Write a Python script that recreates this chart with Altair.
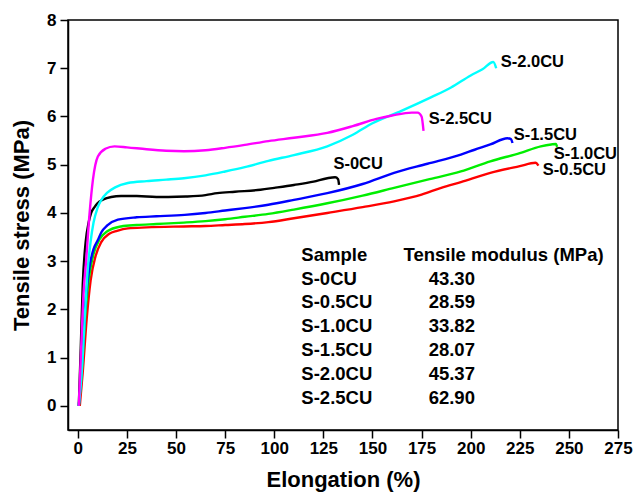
import altair as alt
import pandas as pd

# ---- data ----
names = ["S-0CU", "S-0.5CU", "S-1.0CU", "S-1.5CU", "S-2.0CU", "S-2.5CU"]
colors = ["#000000", "#FF0000", "#00EE00", "#0000FF", "#00FFFF", "#FF00FF"]

s0_x = [0.5, 1.5, 2.5, 4, 5.5, 6.8, 8.5, 10, 13, 17, 22, 30, 40, 46, 55, 65, 71, 80, 93, 100, 110, 120, 127, 131, 132.5, 133]
s0_y = [0, 1.2, 2.5, 3.4, 3.8, 4.0, 4.12, 4.2, 4.28, 4.33, 4.35, 4.35, 4.33, 4.33, 4.34, 4.37, 4.41, 4.44, 4.48, 4.52, 4.58, 4.65, 4.72, 4.74, 4.70, 4.58]

s05_x = [1, 2.5, 4.5, 6.5, 9, 12, 16, 20, 25.5, 35, 54, 65, 75, 85, 97, 110, 127, 145, 161, 175, 185, 195, 210, 225, 233, 234.5]
s05_y = [0, 0.7, 1.8, 2.6, 3.1, 3.4, 3.57, 3.63, 3.68, 3.70, 3.72, 3.73, 3.75, 3.77, 3.81, 3.89, 4.0, 4.12, 4.24, 4.38, 4.52, 4.64, 4.83, 4.97, 5.04, 4.98]

s10_x = [0.5, 2, 4, 6, 8, 11, 15, 22, 30, 40, 54, 65, 75, 85, 97, 110, 127, 145, 161, 178, 195, 210, 225, 235.7, 241, 243.4, 244]
s10_y = [0, 0.7, 2.0, 2.75, 3.15, 3.45, 3.62, 3.72, 3.75, 3.77, 3.8, 3.83, 3.87, 3.92, 3.98, 4.07, 4.2, 4.36, 4.52, 4.69, 4.86, 5.07, 5.24, 5.38, 5.42, 5.43, 5.37]

s15_x = [0.5, 2, 4, 6, 8, 10.2, 12, 15, 20.4, 30, 40, 54.4, 65, 75, 85, 97, 110, 127, 145, 161, 178, 195, 202, 210, 218.7, 220.5, 221.3]
s15_y = [0, 0.8, 2.2, 2.9, 3.25, 3.44, 3.6, 3.74, 3.86, 3.91, 3.93, 3.96, 4.0, 4.05, 4.1, 4.17, 4.27, 4.41, 4.6, 4.83, 5.02, 5.21, 5.31, 5.42, 5.55, 5.53, 5.45]

s20_x = [0.5, 2, 3.5, 5, 6.5, 8, 10, 12, 15, 19, 25.5, 35, 45, 54, 65, 75, 85, 97, 110, 127, 140, 150, 165, 180, 190, 200, 206, 211.5, 213]
s20_y = [0, 0.7, 1.8, 2.8, 3.4, 3.8, 4.1, 4.27, 4.42, 4.53, 4.62, 4.66, 4.69, 4.72, 4.78, 4.86, 4.95, 5.08, 5.2, 5.38, 5.62, 5.86, 6.12, 6.4, 6.6, 6.85, 6.98, 7.13, 7.0]

s25_x = [0.5, 1.5, 3.0, 4.2, 6.0, 7.7, 10.2, 14, 18.7, 25, 35, 45, 54, 65, 75, 85, 97, 110, 127, 140, 152, 160, 170, 173, 175, 176]
s25_y = [0, 1.0, 2.4, 3.0, 4.0, 4.69, 5.17, 5.33, 5.38, 5.36, 5.32, 5.29, 5.28, 5.30, 5.35, 5.41, 5.49, 5.56, 5.66, 5.8, 5.95, 6.02, 6.08, 6.08, 6.0, 5.7]

series_x = [s0_x, s05_x, s10_x, s15_x, s20_x, s25_x]
series_y = [s0_y, s05_y, s10_y, s15_y, s20_y, s25_y]

# curve end labels (data coordinates, left-aligned)
label_text = ["S-0CU", "S-0.5CU", "S-1.0CU", "S-1.5CU", "S-2.0CU", "S-2.5CU"]
label_x = [130.1, 236.7, 242.3, 221.9, 215.3, 178.6]
label_y = [5.02, 4.88, 5.23, 5.62, 7.12, 5.94]

# inset table
moduli = ["43.30", "28.59", "33.82", "28.07", "45.37", "62.90"]
table_header = ["Sample", "Tensile modulus (MPa)"]
table_col_x = [113.8, 178.6]
table_header_x = [113.8, 165.8]
table_top_y = 3.13
table_step = 0.493

# ---- build tables ----
rows = []
for n, xs, ys in zip(names, series_x, series_y):
    for i, (xv, yv) in enumerate(zip(xs, ys)):
        rows.append({"sample": n, "x": xv, "y": yv, "i": i})
curves = pd.DataFrame(rows)

labels = pd.DataFrame({"x": label_x, "y": label_y, "text": label_text})

trows = [
    {"x": table_header_x[0], "y": table_top_y, "text": table_header[0]},
    {"x": table_header_x[1], "y": table_top_y, "text": table_header[1]},
]
for k, (n, m) in enumerate(zip(names, moduli)):
    yy = table_top_y - table_step * (k + 1)
    trows.append({"x": table_col_x[0], "y": yy, "text": n})
    trows.append({"x": table_col_x[1], "y": yy, "text": m})
table = pd.DataFrame(trows)

FONT = "Liberation Sans"

x_vals = [i * 12.5 for i in range(23)]
y_vals = [i * 0.5 for i in range(17)]

xscale = alt.Scale(domain=[-5, 275], nice=False, zero=False)
yscale = alt.Scale(domain=[-0.5, 8], nice=False, zero=False)

xaxis = alt.Axis(
    title="Elongation (%)",
    values=x_vals,
    labelExpr="datum.value % 25 == 0 ? format(datum.value, 'd') : ''",
    tickSize={"condition": {"test": "datum.value % 25 == 0", "value": 8}, "value": 5},
    grid=False,
    labelFlush=False,
    labelOverlap=False,
    labelPadding=2,
    titlePadding=13,
)
yaxis = alt.Axis(
    title="Tensile stress (MPa)",
    values=y_vals,
    labelExpr="datum.value % 1 == 0 ? format(datum.value, 'd') : ''",
    tickSize={"condition": {"test": "datum.value % 1 == 0", "value": 8}, "value": 5},
    grid=False,
    labelFlush=False,
    labelOverlap=False,
    labelPadding=4,
    titlePadding=13,
)

lines = alt.Chart(curves).mark_line(strokeWidth=2.4, interpolate="monotone").encode(
    x=alt.X("x:Q", scale=xscale, axis=xaxis),
    y=alt.Y("y:Q", scale=yscale, axis=yaxis),
    color=alt.Color("sample:N", scale=alt.Scale(domain=names, range=colors), legend=None),
    order="i:Q",
)

lab = alt.Chart(labels).mark_text(
    align="left", baseline="middle", font=FONT, fontWeight="bold", fontSize=16.5, color="black"
).encode(x="x:Q", y="y:Q", text="text:N")

tab = alt.Chart(table).mark_text(
    align="left", baseline="middle", font=FONT, fontWeight="bold", fontSize=18.5, color="black"
).encode(x="x:Q", y="y:Q", text="text:N")

chart = alt.layer(lines, lab, tab).properties(
    width=550,
    height=410,
    autosize=alt.AutoSizeParams(type="none"),
    padding={"left": 68, "top": 20, "right": 17, "bottom": 65},
    background="white",
).configure_view(
    stroke="black", strokeWidth=1.5
).configure_axis(
    domainColor="black",
    domainWidth=1.5,
    tickColor="black",
    tickWidth=1.5,
    labelFont=FONT,
    labelFontWeight="bold",
    labelFontSize=17,
    labelColor="black",
    titleFont=FONT,
    titleFontWeight="bold",
    titleFontSize=22,
    titleColor="black",
)

chart.save("out.html", embed_options={"renderer": "svg", "actions": False})
